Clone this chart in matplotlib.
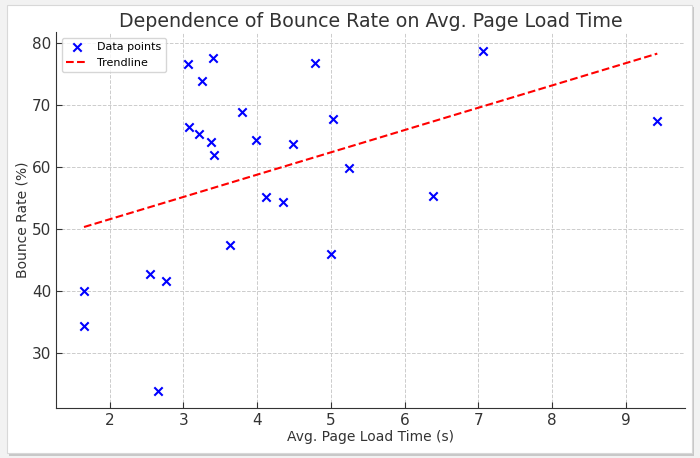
import matplotlib
matplotlib.use("Agg")
import matplotlib.pyplot as plt
import numpy as np
from matplotlib.patches import FancyBboxPatch

# avg page load time (s) and bounce rate (%)
load_time = [1.65, 1.65, 2.54, 2.76, 2.66, 3.63, 5.00,
             3.06, 3.40, 3.25, 3.80, 3.08, 3.21, 3.37, 3.42,
             3.98, 4.48, 4.12, 4.35, 4.78, 5.03, 5.24,
             6.39, 7.06, 9.43]
bounce_rate = [40.0, 34.3, 42.7, 41.6, 23.8, 47.5, 46.0,
               76.6, 77.6, 73.9, 68.9, 66.5, 65.4, 64.0, 62.0,
               64.3, 63.8, 55.1, 54.3, 76.8, 67.7, 59.9,
               55.4, 78.8, 67.5]

x = np.array(load_time)
y = np.array(bounce_rate)

fig = plt.figure(figsize=(7, 4.58), dpi=100)
fig.patch.set_facecolor("#f2f2f2")

# card with shadow behind the plot
shadow = FancyBboxPatch((0.013, 0.004), 0.978, 0.98, boxstyle="square,pad=0",
                        transform=fig.transFigure, facecolor="#c8c8c8",
                        edgecolor="none", zorder=-2)
card = FancyBboxPatch((0.010, 0.011), 0.979, 0.978, boxstyle="square,pad=0",
                      transform=fig.transFigure, facecolor="white",
                      edgecolor="#d8d8d8", linewidth=0.8, zorder=-1)
fig.patches.extend([shadow, card])

ax = fig.add_axes([0.080, 0.109, 0.899, 0.821])
ax.set_facecolor("white")

ax.scatter(x, y, marker="x", color="blue", s=36, linewidths=1.5,
           label="Data points", zorder=3)

# linear trend
m, b = np.polyfit(x, y, 1)
xs = np.array([x.min(), x.max()])
ax.plot(xs, m * xs + b, color="red", linestyle="--", linewidth=1.5,
        label="Trendline", zorder=2)

ax.set_title("Dependence of Bounce Rate on Avg. Page Load Time",
             fontsize=13.7, color="#333333", pad=4)
ax.set_xlabel("Avg. Page Load Time (s)", fontsize=10, color="#333333")
ax.set_ylabel("Bounce Rate (%)", fontsize=10, color="#333333")
ax.xaxis.label.set_va("center")
ax.yaxis.label.set_va("center")
ax.xaxis.set_label_coords(0.5, -0.078)
ax.yaxis.set_label_coords(-0.054, 0.5)

ax.set_xlim(1.27, 9.81)
ax.set_ylim(21.1, 81.8)
ax.set_xticks(range(2, 10))
ax.set_yticks(range(30, 81, 10))
ax.tick_params(labelsize=11, colors="#333333", length=4, direction="in")

ax.grid(True, linestyle="--", color="#cccccc", linewidth=0.7)
ax.set_axisbelow(True)
for s in ["top", "right"]:
    ax.spines[s].set_visible(False)
for s in ["left", "bottom"]:
    ax.spines[s].set_color("#333333")

ax.legend(loc="upper left", fontsize=8, frameon=True, framealpha=0.8)

fig.savefig("out.png", dpi=100, facecolor=fig.get_facecolor())
